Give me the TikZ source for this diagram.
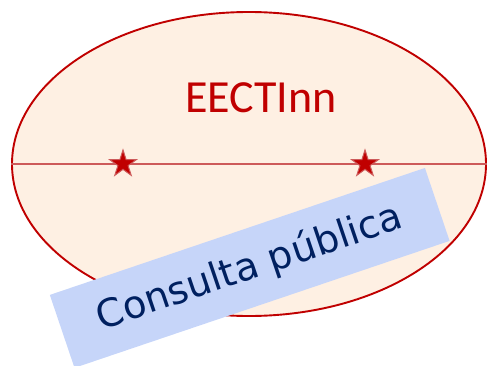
\documentclass[tikz,border=0pt]{standalone}
\usepackage{fontspec}
\usetikzlibrary{shapes.geometric}
\newfontfamily\calib{Carlito}
\newfontfamily\dejav{DejaVu Sans}
\definecolor{darkred}{HTML}{C00000}
\definecolor{peach}{HTML}{FEF0E3}
\definecolor{linered}{HTML}{CD5A5A}
\definecolor{lightblue}{HTML}{C6D5F9}
\definecolor{navy}{HTML}{002060}
\tikzset{
  redstar/.style={star, star points=5, star point ratio=2.618, minimum size=28pt, inner sep=0pt,
    fill=darkred, draw=linered, line width=1pt},
}
\begin{document}
\begin{tikzpicture}[x=1pt,y=1pt]
\useasboundingbox (0,0) rectangle (487,365);
\node[ellipse, draw=darkred, line width=1.9pt, fill=peach, minimum width=474pt, minimum height=304pt, inner sep=0pt] (ell) at (249,201) {};
\draw[linered, line width=1.8pt] (ell.west) -- (ell.east);
\node[redstar] (s1) at (123,201) {};
\node[redstar] (s2) at (365,201) {};
\node[anchor=base, text=darkred, font=\calib\fontsize{46}{50}\selectfont, inner sep=0pt] (title) at (261,253) {EECTInn};
\node[rotate=18.7, fill=lightblue, minimum width=396pt, minimum height=77pt, inner sep=0pt,
  text=navy, font=\dejav\fontsize{38.5}{42}\selectfont] (cp) at (249.7,97.1) {Consulta pública};
\end{tikzpicture}
\end{document}
